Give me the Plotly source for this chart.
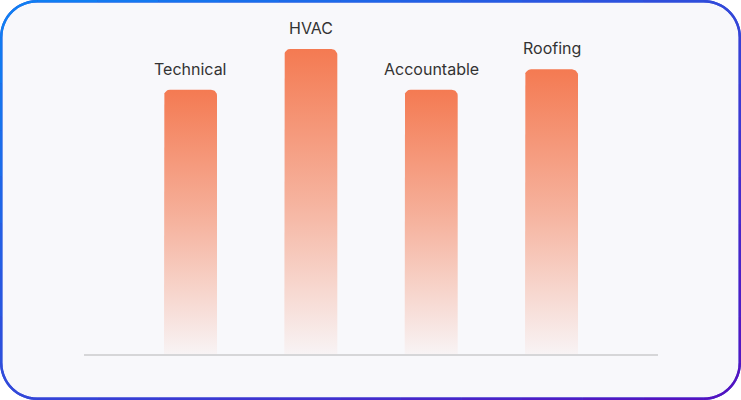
import numpy as np
import plotly.graph_objects as go

# data
categories = ["Technical", "HVAC", "Accountable", "Roofing"]
values = [65, 75, 65, 70]

W, H = 741, 400
# plot area in pixels (from top-left)
px_left, px_right = 84, 658
px_top, px_bottom = 20, 354
x_range = [-0.885, 3.885]
y_range = [0, 82.13]

x_scale = (px_right - px_left) / (x_range[1] - x_range[0])
y_scale = (px_bottom - px_top) / (y_range[1] - y_range[0])

bar_half = 26.5 / x_scale
corner = 6

BAR_RGB = "244,122,82"


def bar_outline(xc, h):
    """closed polygon for a bar with rounded top corners, in data units"""
    rx, ry = corner / x_scale, corner / y_scale
    t = np.linspace(0, np.pi / 2, 10)
    x0, x1 = xc - bar_half, xc + bar_half
    xs = [x0]
    ys = [0]
    # top-left corner
    xs += list(x0 + rx - rx * np.cos(t))
    ys += list(h - ry + ry * np.sin(t))
    # top-right corner
    xs += list(x1 - rx + rx * np.sin(t))
    ys += list(h - ry + ry * np.cos(t))
    xs += [x1, x0]
    ys += [0, 0]
    return xs, ys


fig = go.Figure()

for i, (cat, v) in enumerate(zip(categories, values)):
    xs, ys = bar_outline(i, v)
    fig.add_trace(go.Scatter(
        x=xs, y=ys,
        mode="lines",
        line=dict(width=0),
        fill="toself",
        fillgradient=dict(
            type="vertical",
            colorscale=[
                [0, f"rgba({BAR_RGB},0.04)"],
                [0.5, f"rgba({BAR_RGB},0.55)"],
                [1, f"rgba({BAR_RGB},1)"],
            ],
        ),
        hoverinfo="skip",
        showlegend=False,
    ))
    fig.add_annotation(
        x=i, y=v, text=cat,
        showarrow=False, yanchor="bottom", yshift=9,
        font=dict(family="Inter", size=16, color="#333333"),
    )

# container: rounded rect with a diagonal blue->purple border
R = 36
inset = 1.2


def to_paper(x, y):
    return x / W, 1 - y / H


pts = []
n_arc = 14
l, r, t_, b = inset, W - inset, inset, H - inset
# walk clockwise starting at top-left after the corner
for k in np.linspace(0, 1, 12):
    pts.append((l + R + k * (r - l - 2 * R), t_))
for a in np.linspace(-np.pi / 2, 0, n_arc)[1:]:
    pts.append((r - R + R * np.cos(a), t_ + R + R * np.sin(a)))
for k in np.linspace(0, 1, 8)[1:]:
    pts.append((r, t_ + R + k * (b - t_ - 2 * R)))
for a in np.linspace(0, np.pi / 2, n_arc)[1:]:
    pts.append((r - R + R * np.cos(a), b - R + R * np.sin(a)))
for k in np.linspace(0, 1, 12)[1:]:
    pts.append((r - R - k * (r - l - 2 * R), b))
for a in np.linspace(np.pi / 2, np.pi, n_arc)[1:]:
    pts.append((l + R + R * np.cos(a), b - R + R * np.sin(a)))
for k in np.linspace(0, 1, 8)[1:]:
    pts.append((l, b - R - k * (b - t_ - 2 * R)))
for a in np.linspace(np.pi, 1.5 * np.pi, n_arc)[1:]:
    pts.append((l + R + R * np.cos(a), t_ + R + R * np.sin(a)))

path = "M " + " L ".join(f"{to_paper(x, y)[0]:.5f},{to_paper(x, y)[1]:.5f}" for x, y in pts) + " Z"
# base outline in a mid colour so the joins between coloured pieces don't show
shapes = [dict(type="path", xref="paper", yref="paper", path=path,
               fillcolor="#f8f8fb", line=dict(width=2.4, color="rgb(50,73,218)"),
               layer="below")]

c0 = np.array([13, 132, 245])
c1 = np.array([88, 14, 190])
for (xa, ya), (xb, yb) in zip(pts, pts[1:] + pts[:1]):
    f = ((xa + xb) / 2 / W + (ya + yb) / 2 / H) / 2
    c = (c0 + (c1 - c0) * f).astype(int)
    pa, pb = to_paper(xa, ya), to_paper(xb, yb)
    shapes.append(dict(
        type="line", xref="paper", yref="paper",
        x0=pa[0], y0=pa[1], x1=pb[0], y1=pb[1],
        line=dict(color=f"rgb({c[0]},{c[1]},{c[2]})", width=2.4),
        layer="above",
    ))

fig.update_layout(
    width=W, height=H,
    margin=dict(l=0, r=0, t=0, b=0),
    paper_bgcolor="white",
    plot_bgcolor="rgba(0,0,0,0)",
    shapes=shapes,
    showlegend=False,
    xaxis=dict(
        domain=[px_left / W, px_right / W],
        range=x_range,
        showgrid=False, zeroline=False, showticklabels=False,
        showline=True, linecolor="#d6d6d8", linewidth=1.5,
        fixedrange=True,
    ),
    yaxis=dict(
        domain=[1 - px_bottom / H, 1 - px_top / H],
        range=y_range,
        showgrid=False, zeroline=False, showticklabels=False,
        fixedrange=True,
    ),
)

# the page's default body margin would shift the 741x400 figure
fig.write_html("out.html", config={"displayModeBar": False},
               post_script="document.body.style.margin='0';")
